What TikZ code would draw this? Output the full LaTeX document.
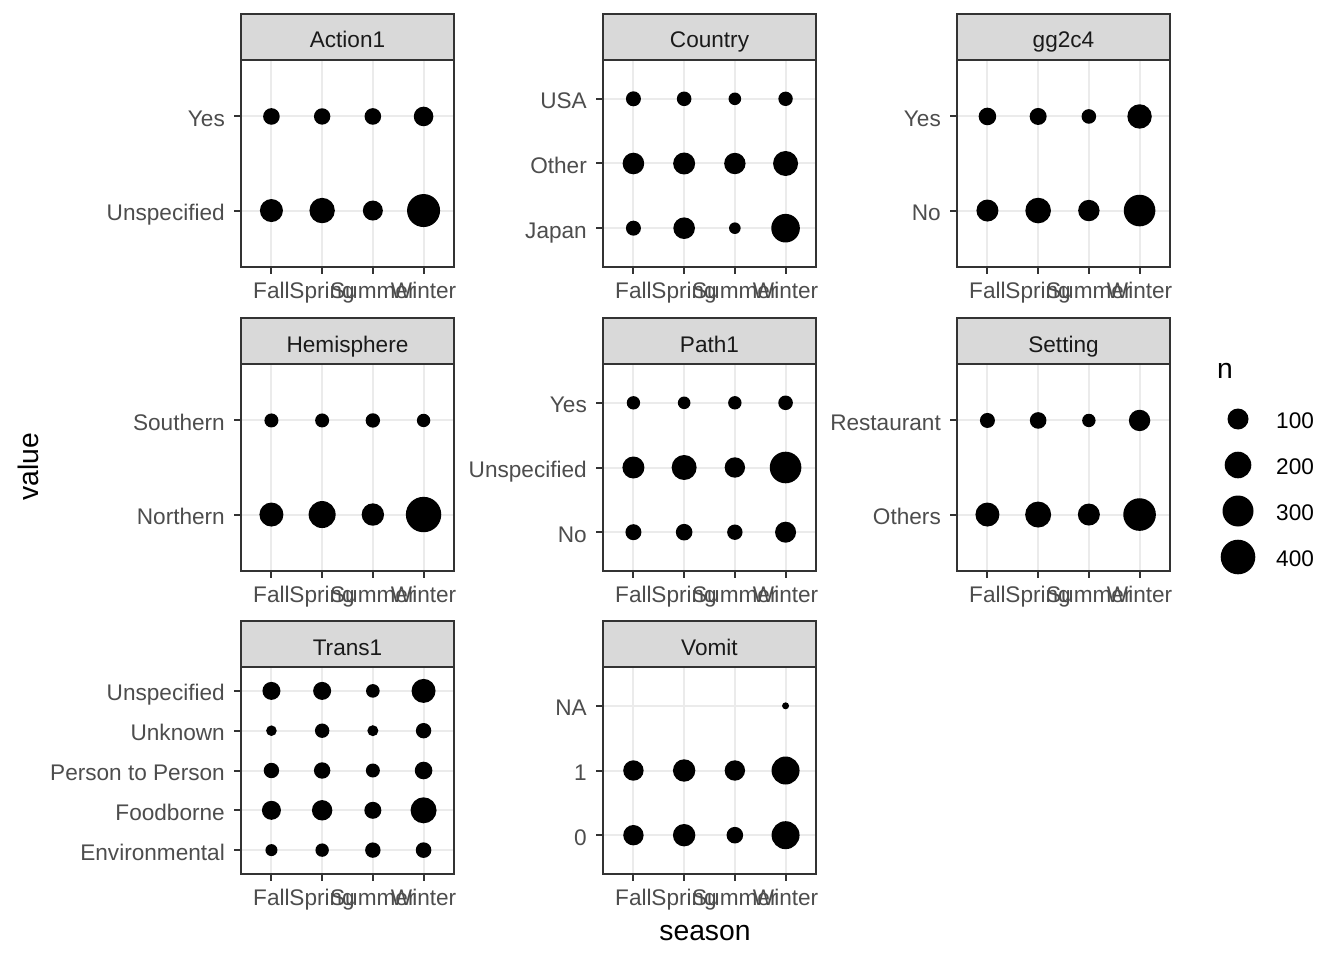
\documentclass[tikz,border=0pt]{standalone}
\usepackage{fontspec}
\setmainfont{Liberation Sans}
\usepackage{tikz}
\usetikzlibrary{positioning,calc}

\definecolor{gridgrey}{HTML}{EBEBEB}
\definecolor{framegrey}{HTML}{333333}
\definecolor{stripgrey}{HTML}{D9D9D9}
\definecolor{ticktext}{HTML}{4D4D4D}
\definecolor{striptext}{HTML}{1A1A1A}

% one facet: left x, strip top y, title, number of levels, level/r1/r2/r3/r4 list
\newcommand{\facet}[5]{%
  \begin{scope}[shift={(#1,#2)}]
    \fill [stripgrey] (0,0) rectangle (213,46);
    \draw [panelframe] (0,0) rectangle (213,46);
    \node [striplab] (strip-#3) at (106.5,34) {#3};
    \foreach \s [count=\i from 0] in {Fall,Spring,Summer,Winter} {
      \pgfmathsetmacro{\xs}{30.43+50.71*\i}
      \draw [gridline] (\xs,46) -- (\xs,253);
      \draw [tickmark] (\xs,253) -- (\xs,260);
      \node [xlab] (x-#3-\i) at (\xs,284) {\s};
    }
    \foreach \lab/\ra/\rb/\rc/\rd [count=\j from 0] in {#5} {
      \pgfmathsetmacro{\yl}{253-(0.6+\j)*207/(#4+0.2)}
      \draw [gridline] (0,\yl) -- (213,\yl);
      \draw [tickmark] (-7,\yl) -- (0,\yl);
      \node [ylab] (y-#3-\j) at (-16,\yl+10) {\lab};
      \foreach \r [count=\i from 0] in {\ra,\rb,\rc,\rd} {
        \ifdim \r pt>0pt \fill (30.43+50.71*\i,\yl) circle [radius=\r pt]; \fi
      }
    }
    \draw [panelframe] (0,46) rectangle (213,253);
  \end{scope}}

\begin{document}
\begin{tikzpicture}[x=1pt, y=-1pt,
    panelframe/.style={draw=framegrey, line width=2pt},
    gridline/.style={gridgrey, line width=2pt},
    tickmark/.style={framegrey, line width=2pt},
    ticklab/.style={text=ticktext, font=\fontsize{22.6}{27}\selectfont, inner sep=0pt},
    xlab/.style={ticklab, anchor=base},
    ylab/.style={ticklab, anchor=base east},
    striplab/.style={text=striptext, font=\fontsize{22.6}{27}\selectfont, inner sep=0pt, anchor=base},
    axistitle/.style={font=\fontsize{28.3}{34}\selectfont, inner sep=0pt, anchor=base},
    legendlab/.style={font=\fontsize{22.6}{27}\selectfont, inner sep=0pt, anchor=base west}]
    \fill [white] (0,0) rectangle (1344,960);
    \useasboundingbox (0,0) rectangle (1344,960);

    \facet{241}{14}{Action1}{2}{Unspecified/11.5/12.7/10/16.5, Yes/8.3/8.2/8.3/9.8}
    \facet{603}{14}{Country}{3}{Japan/7.5/10.8/5.8/14.3, Other/10.8/11/10.7/12.5, USA/7.5/7.3/6.3/7.2}
    \facet{957}{14}{gg2c4}{2}{No/11/12.8/10.7/15.8, Yes/8.8/8.5/7.3/12.2}
    \facet{241}{318}{Hemisphere}{2}{Northern/12/13.5/11.2/17.7, Southern/7/7/7.2/6.7}
    \facet{603}{318}{Path1}{3}{No/8/8.3/7.7/10.5, Unspecified/11/12.5/10.2/15.8, Yes/6.7/6.3/6.7/7.3}
    \facet{957}{318}{Setting}{2}{Others/12/13/11/16.3, Restaurant/7.5/8.3/6.7/10.7}
    \facet{241}{621}{Trans1}{5}{Environmental/6/6.7/7.7/7.8, Foodborne/9.5/10.2/8.5/13, Person to Person/7.7/8.2/7/8.8, Unknown/5.3/7.2/5.5/7.7, Unspecified/9/9/6.8/12}
    \facet{603}{621}{Vomit}{3}{0/10.2/11.2/8.3/14, 1/10.2/11.2/10.2/14, NA/0/0/0/3.5}

    % axis titles
    \node [axistitle] (xtitle) at (705,940) {season};
    \node [axistitle, rotate=90] (ytitle) at (38,467) {value};

    % legend
    \node [axistitle, anchor=base west] (legtitle) at (1217,378) {n};
    \foreach \n/\r [count=\k from 0] in {100/10.5,200/13.3,300/15.5,400/17.3} {
      \fill (1238,419+46*\k) circle [radius=\r pt];
      \node [legendlab] (leg-\n) at (1276,428+46*\k) {\n};
    }
\end{tikzpicture}
\end{document}
